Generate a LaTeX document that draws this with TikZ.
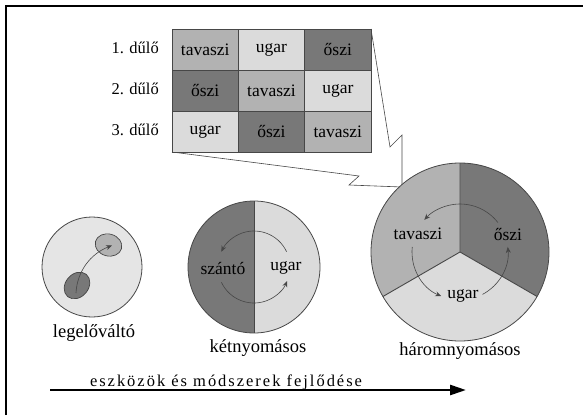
\documentclass[tikz,border=0pt]{standalone}
\usepackage{fontspec}
\setmainfont{Liberation Serif}
\usetikzlibrary{shapes.geometric,arrows.meta}
\definecolor{cTav}{gray}{0.70}
\definecolor{cUg}{gray}{0.86}
\definecolor{cOsz}{gray}{0.47}
\definecolor{cEdge}{gray}{0.28}
\definecolor{cPale}{gray}{0.90}
\begin{document}
\begin{tikzpicture}[x=1pt,y=-1pt,
  font=\fontsize{17.5}{20}\selectfont,
  cell/.style={draw=cEdge, line width=0.5pt, minimum width=66.33pt, minimum height=41pt, inner sep=0pt, anchor=center},
  rowlab/.style={anchor=east, inner sep=0pt, font=\fontsize{16.5}{19}\selectfont},
  lab/.style={inner sep=1pt},
  circname/.style={inner sep=1pt, font=\fontsize{18.5}{21}\selectfont},
  cyc/.style={draw=cEdge, line width=0.6pt, -{Stealth[length=6pt,width=5pt]}},
  rim/.style={draw=cEdge, line width=0.8pt},
  zoomline/.style={draw=cEdge, line width=0.6pt}
]
\useasboundingbox (0,0) rectangle (583,415);
% frame (only left and top edges visible)
\draw[line width=1.8pt] (6,415) -- (6,6) -- (583,6);

% zoom callout lines
\coordinate (tbl) at (172,152);
\coordinate (tr) at (371,29);
\coordinate (m1) at (359,176);
\coordinate (m2) at (349,185);
\coordinate (n1) at (390,147);
\coordinate (n2) at (402,135);
\coordinate (meet) at (402,187);
\draw[zoomline] (tbl) -- (m1) -- (m2) -- (meet);
\draw[zoomline] (tr) -- (n1) -- (n2) -- (meet);

% table
\node[cell, fill=cTav] (c11) at (205.2,49.5) {tavaszi};
\node[cell, fill=cUg]  (c12) at (271.5,49.5) {ugar};
\node[cell, fill=cOsz] (c13) at (337.8,49.5) {őszi};
\node[cell, fill=cOsz] (c21) at (205.2,90.5) {őszi};
\node[cell, fill=cTav] (c22) at (271.5,90.5) {tavaszi};
\node[cell, fill=cUg]  (c23) at (337.8,90.5) {ugar};
\node[cell, fill=cUg]  (c31) at (205.2,131.5) {ugar};
\node[cell, fill=cOsz] (c32) at (271.5,131.5) {őszi};
\node[cell, fill=cTav] (c33) at (337.8,131.5) {tavaszi};
\node[rowlab] (r1) at (159,48) {1. dűlő};
\node[rowlab] (r2) at (159,89) {2. dűlő};
\node[rowlab] (r3) at (159,130) {3. dűlő};

% legelovalto
\begin{scope}[shift={(92,267)}, y=1pt]
  \draw[rim, fill=cPale] (0,0) circle[radius=50];
\end{scope}
\node[ellipse, draw=cEdge, line width=0.7pt, fill=cTav, minimum width=27pt, minimum height=22pt, inner sep=0pt, rotate=-15] (upE) at (108.5,245) {};
\node[ellipse, draw=cEdge, line width=0.7pt, fill=cOsz, minimum width=29pt, minimum height=23pt, inner sep=0pt, rotate=50] (loE) at (77,285.5) {};
\coordinate (aS) at (76,293);
\coordinate (aE) at (112,245.5);
\draw[cyc] (aS) .. controls (77,272) and (90,254) .. (aE);
\node[circname] (l1) at (94,333) {legelőváltó};

% ketnyomasos
\begin{scope}[shift={(254,267)}, y=1pt]
  \fill[cOsz] (0,66) arc[start angle=90,end angle=270,radius=66] -- cycle;
  \fill[cUg] (0,-66) arc[start angle=-90,end angle=90,radius=66] -- cycle;
  \draw[cEdge, line width=0.5pt] (0,66) -- (0,-66);
  \draw[rim] (0,0) circle[radius=66];
  \draw[cyc] (25:36) arc[start angle=25,end angle=155,radius=36];
  \draw[cyc] (205:36) arc[start angle=205,end angle=337,radius=36];
\end{scope}
\node[lab] (szanto) at (223,268) {szántó};
\node[lab] (ugar2) at (286,268) {ugar};
\node[circname] (l2) at (258,348) {kétnyomásos};

% haromnyomasos
\begin{scope}[shift={(460,252)}, y=1pt]
  \fill[cOsz] (0,0) -- (90:89) arc[start angle=90,end angle=-30,radius=89] -- cycle;
  \fill[cTav] (0,0) -- (90:89) arc[start angle=90,end angle=210,radius=89] -- cycle;
  \fill[cUg] (0,0) -- (210:89) arc[start angle=210,end angle=330,radius=89] -- cycle;
  \draw[cEdge, line width=0.9pt] (90:89) -- (0,0) -- (210:89) (0,0) -- (330:89);
  \draw[rim] (0,0) circle[radius=89];
  \draw[cyc] (-62:48) arc[start angle=-62,end angle=6,radius=48];
  \draw[cyc] (38:48) arc[start angle=38,end angle=138,radius=48];
  \draw[cyc] (174:48) arc[start angle=174,end angle=247,radius=48];
\end{scope}
\node[lab] (tav3) at (418,234) {tavaszi};
\node[lab] (osz3) at (508,234) {őszi};
\node[lab] (ug3) at (463,296) {ugar};
\node[circname] (l3) at (460,351) {háromnyomásos};

% development arrow
\node[anchor=base, inner sep=0pt, font=\fontsize{16.5}{19}\selectfont\addfontfeature{LetterSpace=12}] (dev) at (226,386) {eszközök és módszerek fejlődése};
\coordinate (ax0) at (50,390);
\coordinate (ax1) at (466,390);
\draw[line width=2.6pt, -{Triangle[length=16pt,width=10pt]}] (ax0) -- (ax1);
\end{tikzpicture}
\end{document}
